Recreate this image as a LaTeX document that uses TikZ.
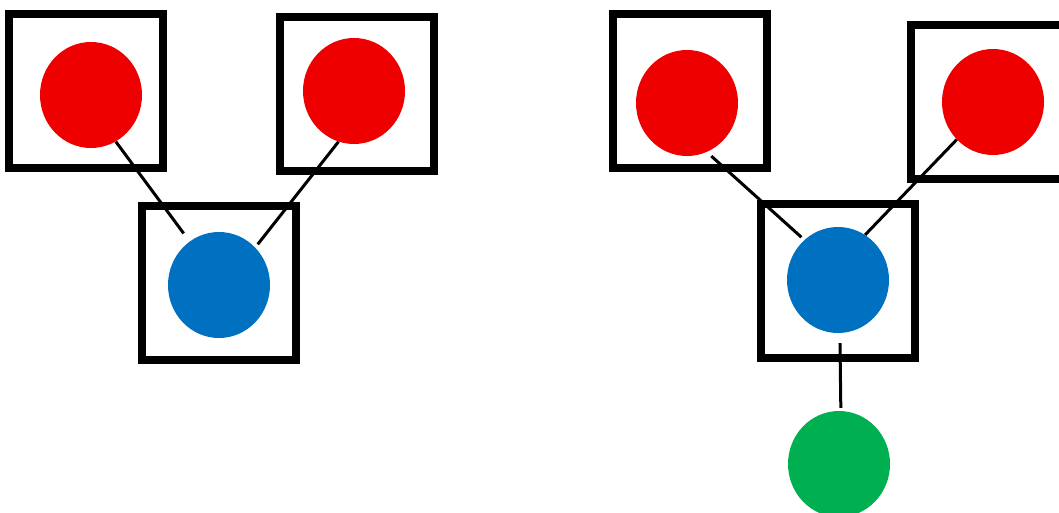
\documentclass[tikz,border=0pt]{standalone}
\usetikzlibrary{shapes.geometric}
\definecolor{dotred}{HTML}{EE0000}
\definecolor{dotblue}{HTML}{0070C0}
\definecolor{dotgreen}{HTML}{00B050}
\tikzset{
  frame/.style={draw=black, line width=8pt, minimum width=154pt, minimum height=154pt, inner sep=0pt, fill=none},
  dot/.style={ellipse, inner sep=0pt, minimum width=102pt, minimum height=106pt, draw=none},
  reddot/.style={dot, fill=dotred},
  bluedot/.style={dot, fill=dotblue},
  greendot/.style={dot, fill=dotgreen},
  link/.style={line width=3pt, black}
}
\begin{document}
\begin{tikzpicture}[x=1pt, y=-1pt]
\useasboundingbox (0,0) rectangle (1059,513);
% frames
\node[frame] (f1) at (86,91) {};
\node[frame] (f2) at (357,94) {};
\node[frame] (f3) at (219,283) {};
\node[frame] (f4) at (690,91) {};
\node[frame] (f5) at (988,102) {};
\node[frame] (f6) at (837.5,281) {};
% dots
\node[reddot] (r1) at (91,95) {};
\node[reddot] (r2) at (354,91) {};
\node[bluedot] (b1) at (219,285) {};
\node[reddot] (r3) at (687,103) {};
\node[reddot] (r4) at (993,102) {};
\node[bluedot] (b2) at (838,280) {};
\node[greendot] (g1) at (839,464) {};
% links
\draw[link, shorten >=10pt] (r1.-62) -- (b1.124);
\draw[link, shorten >=4pt] (r2.-107) -- (b1.46);
\draw[link, shorten <=6pt, shorten >=4pt] (r3.-68) -- (b2.130);
\draw[link] (r4.-134) -- (b2.59);
\draw[link, shorten <=10pt, shorten >=3pt] (b2.-88) -- (g1.88);
\end{tikzpicture}
\end{document}
